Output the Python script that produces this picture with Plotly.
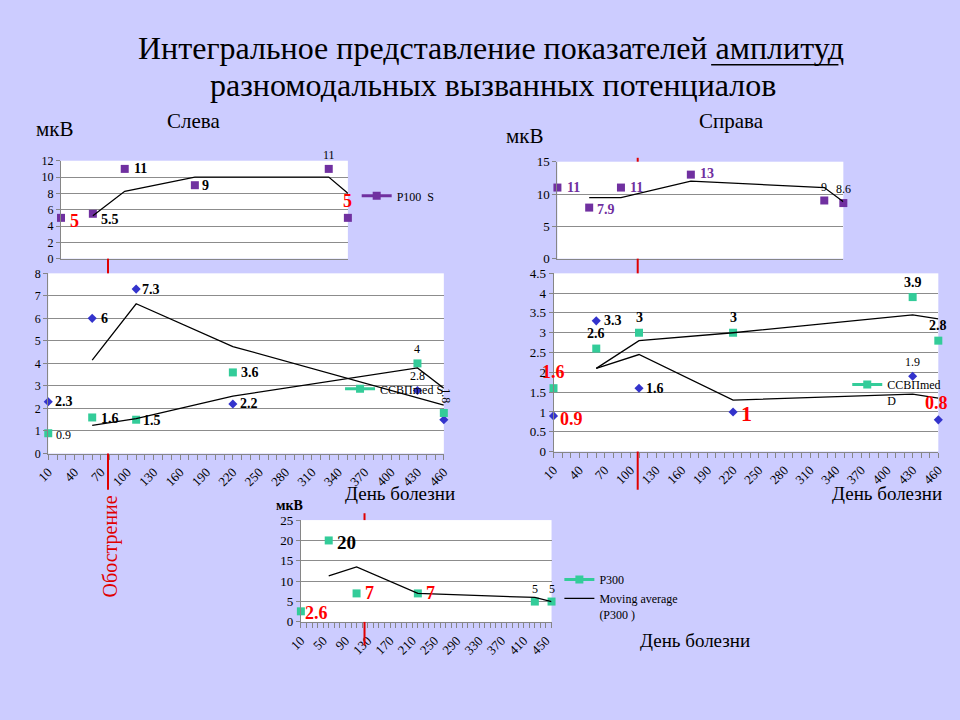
import plotly.graph_objects as go

# ---------------- data ----------------
days = [10, 60, 110, 220, 430, 460]          # день болезни
p100_s = [5, 5.5, 11, 9, 11, 5]               # P100 S (слева)
ssvp_s_b = [2.3, 6, 7.3, 2.2, 2.8, 1.5]       # ССВП S, второй компонент (ромбы)
ssvp_s = [0.9, 1.6, 1.5, 3.6, 4, 1.8]         # ССВПmed S (квадраты)
p100_d = [11, 7.9, 11, 13, 9, 8.6]            # P100 D (справа)
ssvp_d_b = [0.9, 3.3, 1.6, 1, 1.9, 0.8]       # ССВП D, второй компонент (ромбы)
ssvp_d = [1.6, 2.6, 3, 3, 3.9, 2.8]           # ССВПmed D (квадраты)
p300 = [2.6, 20, 7, 7, 5, 5]                  # P300

FONT = "Liberation Serif, Times New Roman, serif"
BG = "#CCCCFF"
PURPLE = "#7030A0"
BLUE = "#3333CC"
TEAL = "#33CC99"
RED = "#FF0000"
GRID = "#8C8C8C"


def moving_avg(vals, n=2):
    return [sum(vals[i - n + 1:i + 1]) / n for i in range(n - 1, len(vals))]


def px_x(p):
    return p / 960


def px_y(p):
    return 1 - p / 720


fig = go.Figure()

# label styles: (color, size, bold)
ST = {
    "b": ("black", 14, True),
    "p": (PURPLE, 14, True),
    "n": ("black", 12, False),
    "r": (RED, 18, True),
    "R": (RED, 22, True),
    "B": ("black", 19, True),
}


def add_labels(xa, ya, xs, ys, specs):
    for x, y, sp in zip(xs, ys, specs):
        if sp is None:
            continue
        key, dx, dy = sp[0], sp[1], sp[2]
        ang = sp[3] if len(sp) > 3 else 0
        col, size, bold = ST[key]
        txt = f"{y:g}"
        if bold:
            txt = f"<b>{txt}</b>"
        fig.add_annotation(x=x, y=y, xref=xa, yref=ya, text=txt, showarrow=False,
                           xshift=dx, yshift=dy, textangle=ang,
                           xanchor="center", yanchor="middle",
                           font=dict(family=FONT, size=size, color=col))


def add_points(xa, ya, ys, color, symbol, size, name=None, legend=None):
    fig.add_trace(go.Scatter(x=days, y=ys, xaxis=xa, yaxis=ya, mode="markers",
                             marker=dict(color=color, symbol=symbol, size=size),
                             cliponaxis=False, showlegend=False, hoverinfo="skip"))
    if name:
        fig.add_trace(go.Scatter(x=[None], y=[None], xaxis=xa, yaxis=ya, mode="lines+markers",
                                 line=dict(color=color, width=3),
                                 marker=dict(color=color, symbol=symbol, size=size),
                                 name=name, legend=legend, showlegend=True))


def add_ma(xa, ya, ys, name=None, legend=None):
    fig.add_trace(go.Scatter(x=days[1:], y=moving_avg(ys), xaxis=xa, yaxis=ya, mode="lines",
                             line=dict(color="black", width=1.3), cliponaxis=False,
                             name=name, legend=legend, showlegend=bool(name), hoverinfo="skip"))


# ---- top-left: P100 S ----
add_points("x", "y", p100_s, PURPLE, "square", 8, "P100  S", "legend")
add_ma("x", "y", p100_s)
add_labels("x", "y", days, p100_s,
           [("r", 14, -3), ("b", 17, -6), ("b", 16, 0), ("b", 11, 0), ("n", 0, 14), ("r", 0, 17)])

# ---- bottom-left: ССВП S ----
add_points("x2", "y2", ssvp_s_b, BLUE, "diamond", 7)
add_points("x2", "y2", ssvp_s, TEAL, "square", 8, "ССВПmed S", "legend2")
add_ma("x2", "y2", ssvp_s_b)
add_ma("x2", "y2", ssvp_s)
add_labels("x2", "y2", days, ssvp_s_b,
           [("b", 16, 0), ("b", 12, 0), ("b", 15, 0), ("b", 16, 0), ("n", 0, 14), None])
add_labels("x2", "y2", days, ssvp_s,
           [("n", 15, -2), ("b", 18, -1), ("b", 16, -1), ("b", 17, 0), ("n", 0, 14), ("n", 2, 17, 90)])

# ---- top-right: P100 D ----
add_points("x3", "y3", p100_d, PURPLE, "square", 8)
add_ma("x3", "y3", p100_d)
add_labels("x3", "y3", days, p100_d,
           [("p", 16, 0), ("p", 17, -2), ("p", 16, 0), ("p", 16, 1), ("n", 0, 13), ("n", 0, 14)])

# ---- bottom-right: ССВП D ----
add_points("x4", "y4", ssvp_d_b, BLUE, "diamond", 7)
add_points("x4", "y4", ssvp_d, TEAL, "square", 8, "ССВПmed<br>D", "legend3")
add_ma("x4", "y4", ssvp_d_b)
add_ma("x4", "y4", ssvp_d)
add_labels("x4", "y4", days, ssvp_d_b,
           [("r", 18, -3), ("b", 17, 0), ("b", 16, 0), ("R", 13, -2), ("n", 0, 14), ("r", -2, 17)])
add_labels("x4", "y4", days, ssvp_d,
           [("r", 0, 16), ("b", 0, 15), ("b", 0, 15), ("b", 0, 15), ("b", 0, 15), ("b", 0, 15)])

# ---- bottom-center: P300 ----
add_points("x5", "y5", p300, TEAL, "square", 8, "P300", "legend4")
add_ma("x5", "y5", p300, "Moving average<br>(P300 )", "legend4")
add_labels("x5", "y5", days, p300,
           [("r", 16, -2), ("B", 18, -2), ("r", 13, 0), ("r", 13, 0), ("n", 0, 13), ("n", 0, 13)])

# ---------------- axes ----------------
def xax(dom, dtick, labels=True):
    d = dict(domain=dom, range=[10, 460], showline=True, linecolor="#868686", linewidth=1,
             showgrid=False, zeroline=False, fixedrange=True)
    if labels:
        d.update(tick0=10, dtick=dtick, ticks="outside", ticklen=5, tickcolor="#868686",
                 tickangle=-45, tickfont=dict(family=FONT, size=13, color="black"),
                 minor=dict(dtick=10, ticks="outside", ticklen=5, tickcolor="#868686"))
    else:
        d.update(showticklabels=False, ticks="")
    return d


def yax(dom, rng, dtick, anchor, size=12):
    return dict(domain=dom, range=rng, dtick=dtick, showline=True, linecolor="#868686",
                ticks="outside", ticklen=4, tickcolor="#868686", showgrid=True,
                gridcolor=GRID, gridwidth=1, zeroline=False, anchor=anchor,
                tickfont=dict(family=FONT, size=size, color="black"), fixedrange=True)


fig.update_layout(
    xaxis=dict(xax([px_x(49), px_x(342)], 30, False), anchor="y"),
    yaxis=yax([px_y(257), px_y(157)], [0, 12], 2, "x"),
    xaxis2=dict(xax([px_x(36), px_x(440)], 30), anchor="y2"),
    yaxis2=yax([px_y(456), px_y(272)], [0, 8], 1, "x2"),
    xaxis3=dict(xax([px_x(556), px_x(848)], 30, False), anchor="y3"),
    yaxis3=yax([px_y(257), px_y(158)], [0, 15], 5, "x3", 13),
    xaxis4=dict(xax([px_x(552), px_x(945)], 30), anchor="y4"),
    yaxis4=yax([px_y(454), px_y(272)], [0, 4.5], 0.5, "x4", 13),
    xaxis5=dict(xax([px_x(294), px_x(550)], 40), anchor="y5"),
    yaxis5=yax([px_y(628), px_y(524)], [0, 25], 5, "x5", 13),
)

leg_common = dict(bgcolor="rgba(0,0,0,0)", font=dict(family=FONT, size=12, color="black"),
                  xanchor="left", itemwidth=30, tracegroupgap=0, valign="top")
fig.update_layout(
    legend=dict(leg_common, x=px_x(351), y=px_y(193), yanchor="middle"),
    legend2=dict(leg_common, x=px_x(334), y=px_y(390), yanchor="middle"),
    legend3=dict(leg_common, x=px_x(852), y=px_y(371), yanchor="top"),
    legend4=dict(leg_common, x=px_x(558), y=px_y(570), yanchor="top"),
)

# ---------------- texts ----------------
def txt(x, y, s, size, color="black", angle=0):
    fig.add_annotation(x=px_x(x), y=px_y(y), xref="paper", yref="paper", text=s, showarrow=False,
                       xanchor="center", yanchor="middle",
                       textangle=angle, font=dict(family=FONT, size=size, color=color))


txt(488, 42, "Интегральное представление показателей амплитуд", 32)
txt(490, 80, "разномодальных вызванных потенциалов", 32)
txt(184, 116, "Слева", 21)
txt(734, 116, "Справа", 21)
txt(43, 125, "мкВ", 21)
txt(523, 132, "мкВ", 21)
txt(395, 497, "День болезни", 19)
txt(893, 497, "День болезни", 19)
txt(697, 647, "День болезни", 19)
txt(282, 509, "<b>мкВ</b>", 14)
txt(100, 551, "Обострение", 20, "#E00000", -90)

# underline of the word "амплитуд"
fig.add_shape(type="line", xref="paper", yref="paper", x0=px_x(713), x1=px_x(843),
              y0=px_y(59), y1=px_y(59), line=dict(color="black", width=1.5))

# red "Обострение" markers (visible parts outside plot areas)
for x, segs in [(97, [(257, 272), (456, 493)]),
                (638, [(154, 158), (257, 272), (454, 493)]),
                (359, [(517, 524), (628, 652)])]:
    for y0, y1 in segs:
        fig.add_shape(type="line", xref="paper", yref="paper", x0=px_x(x), x1=px_x(x),
                      y0=px_y(y0), y1=px_y(y1), line=dict(color="#E00000", width=2))

fig.update_layout(width=960, height=720, autosize=False,
                  margin=dict(l=0, r=0, t=0, b=0),
                  paper_bgcolor=BG, plot_bgcolor="white")

fig.write_html("out.html", config={"displayModeBar": False},
               post_script="document.body.style.margin='0';document.body.style.overflow='hidden';")
